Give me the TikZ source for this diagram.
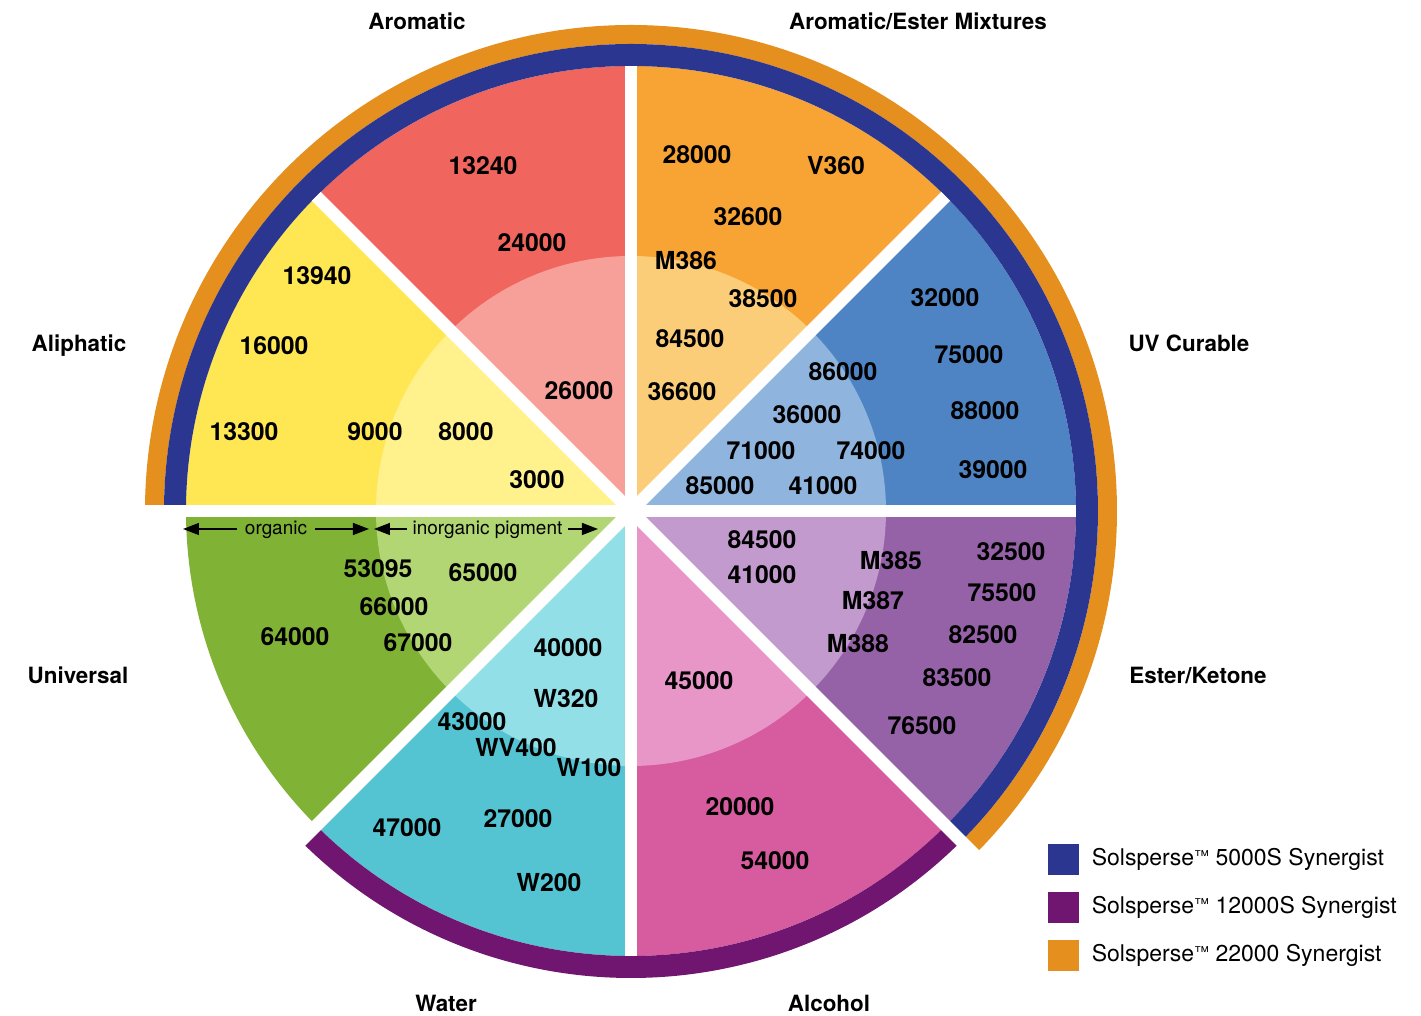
\documentclass[tikz,border=0pt]{standalone}
\usepackage{fontspec}
\setmainfont{TeX Gyre Heros}
\usetikzlibrary{arrows.meta,positioning}

\definecolor{aroD}{RGB}{240,101,94}
\definecolor{aroL}{RGB}{247,160,153}
\definecolor{aemD}{RGB}{248,164,53}
\definecolor{aemL}{RGB}{251,205,120}
\definecolor{uvD}{RGB}{79,132,196}
\definecolor{uvL}{RGB}{143,180,222}
\definecolor{estD}{RGB}{149,98,168}
\definecolor{estL}{RGB}{194,154,206}
\definecolor{alcD}{RGB}{214,91,159}
\definecolor{alcL}{RGB}{232,150,200}
\definecolor{watD}{RGB}{84,196,211}
\definecolor{watL}{RGB}{146,223,231}
\definecolor{uniD}{RGB}{128,178,54}
\definecolor{uniL}{RGB}{178,214,116}
\definecolor{aliD}{RGB}{254,231,82}
\definecolor{aliL}{RGB}{255,242,141}
\definecolor{ringblue}{RGB}{42,54,144}
\definecolor{ringpurple}{RGB}{113,22,112}
\definecolor{ringorange}{RGB}{228,143,30}

\newcommand{\tmark}{\raisebox{2pt}{\fontsize{7.5}{8}\selectfont ™}}

\tikzset{
  num/.style={font=\fontsize{12.4}{14}\selectfont\bfseries, inner sep=0pt},
  outlabel/.style={font=\fontsize{11.2}{13}\selectfont\bfseries, inner sep=0pt, text depth=0pt},
  gap/.style={white, line width=6.25pt},
  spanarrow/.style={-{Triangle[length=8pt,width=6pt]}, line width=0.65pt},
  spanlabel/.style={font=\fontsize{9.5}{11}\selectfont, text height=1ex, text depth=0pt},
  legbox/.style={minimum size=15.5pt, inner sep=0pt},
  legtext/.style={font=\fontsize{11.5}{13}\selectfont, inner sep=0pt}
}

\begin{document}
\begin{tikzpicture}[x=0.5pt,y=0.5pt]
\useasboundingbox (-631,-505) rectangle (790,511);

\foreach \s/\cD/\cL in {0/uvD/uvL, 45/aemD/aemL, 90/aroD/aroL, 135/aliD/aliL,
                         180/uniD/uniL, 225/watD/watL, 270/alcD/alcL, 315/estD/estL}
{
  \fill[\cD] (0,0) -- (\s:445) arc[start angle=\s, delta angle=45, radius=445] -- cycle;
  \fill[\cL] (0,0) -- (\s:255) arc[start angle=\s, delta angle=45, radius=255] -- cycle;
}

\fill[ringorange] (180:486) arc[start angle=180, end angle=-45, radius=486]
  -- (-45:467) arc[start angle=-45, end angle=180, radius=467] -- cycle;
\fill[ringblue] (180:467) arc[start angle=180, end angle=-45, radius=467]
  -- (-45:445) arc[start angle=-45, end angle=180, radius=445] -- cycle;
\fill[ringpurple] (-135:467) arc[start angle=-135, end angle=-45, radius=467]
  -- (-45:445) arc[start angle=-45, end angle=-135, radius=445] -- cycle;

\draw[gap] (180:495) -- (0:445);
\draw[gap] (135:445) -- (-45:495);
\draw[gap] (90:445) -- (-90:445);
\draw[gap] (45:445) -- (-135:495);

\foreach \x/\y/\t [count=\i] in {-148/345/13240, -99/268/24000, -52/120/26000}
  \node[num] (aro\i) at (\x,\y) {\t};
\foreach \x/\y/\t [count=\i] in {66/356/28000, 205/345/V360, 117/294/32600, 55/250/M386,
                                 132/212/38500, 59/172/84500, 51/119/36600}
  \node[num] (aem\i) at (\x,\y) {\t};
\foreach \x/\y/\t [count=\i] in {314/213/32000, 338/156/75000, 212/139/86000, 176/96/36000,
                                 354/100/88000, 130/60/71000, 240/60/74000, 362/41/39000,
                                 89/25/85000, 192/25/41000}
  \node[num] (uv\i) at (\x,\y) {\t};
\foreach \x/\y/\t [count=\i] in {131/-29/84500, 131/-64/41000, 260/-50/M385, 380/-41/32500,
                                 242/-90/M387, 371/-82/75500, 227/-133/M388, 352/-124/82500,
                                 326/-167/83500, 291/-215/76500}
  \node[num] (est\i) at (\x,\y) {\t};
\foreach \x/\y/\t [count=\i] in {68/-170/45000, 109/-296/20000, 144/-350/54000}
  \node[num] (alc\i) at (\x,\y) {\t};
\foreach \x/\y/\t [count=\i] in {-63/-137/40000, -65/-188/W320, -159/-211/43000, -115/-237/WV400,
                                 -42/-257/W100, -113/-308/27000, -224/-317/47000, -82/-372/W200}
  \node[num] (wat\i) at (\x,\y) {\t};
\foreach \x/\y/\t [count=\i] in {-253/-58/53095, -148/-62/65000, -237/-96/66000,
                                 -336/-126/64000, -213/-132/67000}
  \node[num] (uni\i) at (\x,\y) {\t};
\foreach \x/\y/\t [count=\i] in {-314/235/13940, -357/165/16000, -387/79/13300,
                                 -256/79/9000, -165/79/8000, -94/31/3000}
  \node[num] (ali\i) at (\x,\y) {\t};

\node[outlabel] (aromatic) at (-214,490) {Aromatic};
\node[outlabel] (aromester) at (287,490) {Aromatic/Ester Mixtures};
\node[outlabel] (uvcurable) at (558,168) {UV Curable};
\node[outlabel] (esterketone) at (567,-164) {Ester/Ketone};
\node[outlabel] (alcohol) at (198,-492) {Alcohol};
\node[outlabel] (water) at (-185,-492) {Water};
\node[outlabel] (universal) at (-553,-164) {Universal};
\node[outlabel] (aliphatic) at (-552,168) {Aliphatic};

\coordinate (orgL) at (-448,-18);
\coordinate (orgR) at (-262,-18);
\coordinate (inoL) at (-257,-18);
\coordinate (inoR) at (-33,-18);
\node[spanlabel, inner sep=4pt] (organic) at (-355,-18) {organic};
\node[spanlabel, inner sep=2.8pt] (inorganic) at (-143.5,-18) {inorganic pigment};
\draw[spanarrow] (organic) -- (orgL);
\draw[spanarrow] (organic) -- (orgR);
\draw[spanarrow] (inorganic) -- (inoL);
\draw[spanarrow] (inorganic) -- (inoR);

\node[legbox, fill=ringblue] (key1) at (432.5,-348.5) {};
\node[legbox, fill=ringpurple] (key2) at (432.5,-396.5) {};
\node[legbox, fill=ringorange] (key3) at (432.5,-444.5) {};
\node[legtext, right=6pt of key1] (key1t) {Solsperse\tmark{} 5000S Synergist};
\node[legtext, right=6pt of key2] (key2t) {Solsperse\tmark{} 12000S Synergist};
\node[legtext, right=6pt of key3] (key3t) {Solsperse\tmark{} 22000 Synergist};
\end{tikzpicture}
\end{document}
